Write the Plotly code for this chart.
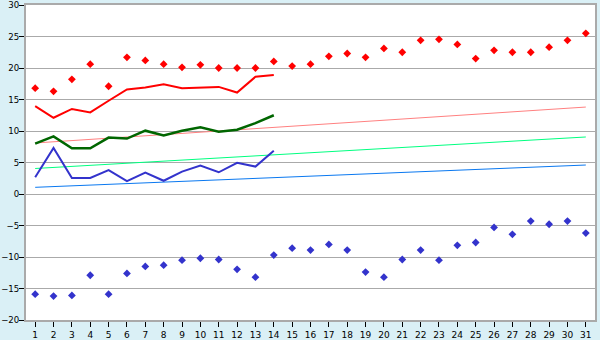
import plotly.graph_objects as go

days = list(range(1, 32))
days_actual = list(range(1, 15))

record_max = [16.8, 16.3, 18.2, 20.6, 17.1, 21.7, 21.2, 20.6, 20.1, 20.5,
              20.0, 20.0, 20.0, 21.05, 20.3, 20.6, 21.85, 22.3, 21.7, 23.1,
              22.5, 24.4, 24.55, 23.75, 21.5, 22.8, 22.5, 22.5, 23.3, 24.4, 25.5]
record_min = [-15.9, -16.2, -16.1, -12.9, -15.9, -12.6, -11.5, -11.3, -10.5, -10.2,
              -10.4, -11.95, -13.2, -9.7, -8.6, -8.9, -8.0, -8.9, -12.4, -13.2,
              -10.4, -8.9, -10.5, -8.15, -7.7, -5.3, -6.4, -4.3, -4.8, -4.3, -6.2]
actual_max = [13.95, 12.1, 13.5, 12.95, 14.8, 16.6, 16.9, 17.4, 16.8, 16.9,
              17.0, 16.1, 18.6, 18.9]
actual_mean = [8.0, 9.15, 7.25, 7.25, 8.95, 8.8, 10.05, 9.3, 10.05, 10.6,
               9.9, 10.2, 11.25, 12.5]
actual_min = [2.65, 7.3, 2.55, 2.55, 3.8, 2.05, 3.4, 2.1, 3.55, 4.5,
              3.45, 4.95, 4.35, 6.85]
normal_days = [1, 31]
normal_max = [8.1, 13.8]
normal_mean = [4.05, 9.05]
normal_min = [1.06, 4.6]

fig = go.Figure()

fig.add_trace(go.Scatter(x=normal_days, y=normal_max, mode="lines",
                         line=dict(color="#ff8080", width=1)))
fig.add_trace(go.Scatter(x=normal_days, y=normal_mean, mode="lines",
                         line=dict(color="#00ff80", width=1)))
fig.add_trace(go.Scatter(x=normal_days, y=normal_min, mode="lines",
                         line=dict(color="#0a78f0", width=1)))

fig.add_trace(go.Scatter(x=days_actual, y=actual_max, mode="lines",
                         line=dict(color="#ff0000", width=2)))
fig.add_trace(go.Scatter(x=days_actual, y=actual_mean, mode="lines",
                         line=dict(color="#006600", width=2.5)))
fig.add_trace(go.Scatter(x=days_actual, y=actual_min, mode="lines",
                         line=dict(color="#3333cc", width=2)))

fig.add_trace(go.Scatter(x=days, y=record_max, mode="markers",
                         marker=dict(symbol="diamond", size=6, color="#ff0000")))
fig.add_trace(go.Scatter(x=days, y=record_min, mode="markers",
                         marker=dict(symbol="diamond", size=6, color="#3333cc")))

fig.update_layout(
    width=600, height=340,
    margin=dict(l=26, r=5, t=5, b=20, autoexpand=False),
    paper_bgcolor="#daf0f6",
    plot_bgcolor="#ffffff",
    showlegend=False,
    hovermode=False,
    font=dict(family="DejaVu Sans", size=9, color="#000000"),
)
fig.update_xaxes(
    range=[0.5, 31.5], tickmode="array", tickvals=days,
    ticktext=[str(d) for d in days], automargin=False,
    ticklabeloverflow="allow",
    ticks="outside", ticklen=5, tickcolor="#000000", tickwidth=1,
    showgrid=False, zeroline=False,
    showline=True, linecolor="#aaaaaa", linewidth=2, mirror=True,
)
fig.update_yaxes(
    range=[-20, 30], tickmode="linear", tick0=-20, dtick=5, automargin=False,
    ticklabeloverflow="allow", ticklabelstandoff=-2,
    tickfont=dict(family="DejaVu Sans", size=8.6, color="#000000"),
    ticks="outside", ticklen=5, tickcolor="#000000", tickwidth=1,
    showgrid=True, gridcolor="#aaaaaa", gridwidth=1, zeroline=False,
    showline=True, linecolor="#aaaaaa", linewidth=2, mirror=True,
)

fig.write_html("out.html", config={"displayModeBar": False})
